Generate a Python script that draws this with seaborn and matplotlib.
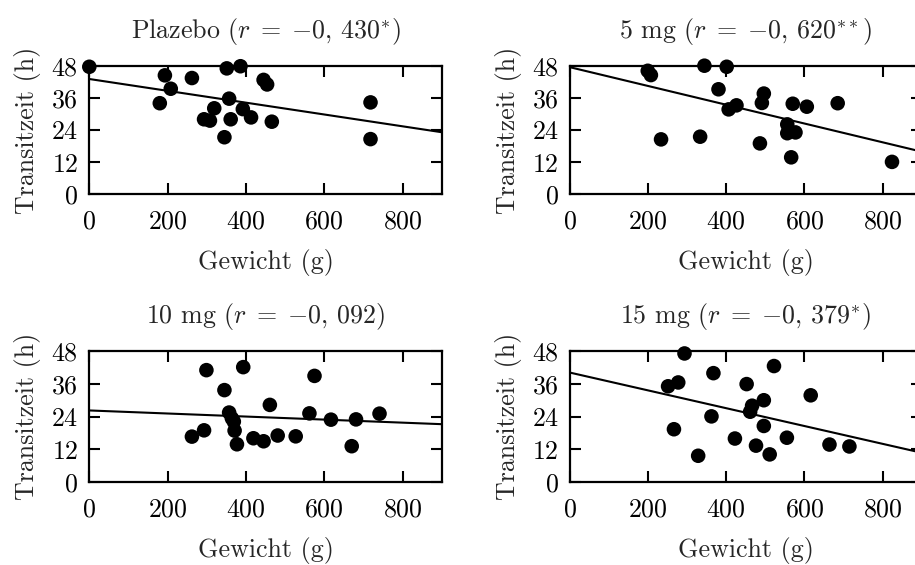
import matplotlib
matplotlib.use("Agg")
import numpy as np
import pandas as pd
import seaborn as sns
import matplotlib.pyplot as plt

# Körpergewicht (g) und Transitzeit (h) je Behandlungsgruppe
plazebo_gewicht = [0, 180, 193, 208, 262, 293, 308, 319, 345, 351, 357, 361, 386, 392, 413, 445, 454, 466, 718, 718]
plazebo_zeit = [47.6, 34.0, 44.4, 39.4, 43.4, 28.0, 27.5, 32.1, 21.3, 47.0, 35.7, 28.0, 47.8, 31.8, 28.7, 42.7, 41.0, 27.1, 34.3, 20.6]

mg5_gewicht = [199, 207, 233, 333, 344, 380, 401, 406, 426, 486, 491, 496, 556, 556, 577, 566, 570, 606, 685, 824]
mg5_zeit = [46.1, 44.5, 20.5, 21.5, 48.0, 39.2, 47.6, 31.7, 33.2, 19.0, 34.1, 37.6, 26.1, 22.8, 23.1, 13.8, 33.8, 32.7, 34.0, 12.1]

mg10_gewicht = [262, 293, 299, 345, 357, 364, 369, 371, 377, 393, 419, 445, 461, 481, 527, 562, 575, 617, 670, 681, 741]
mg10_zeit = [16.7, 19.0, 41.0, 33.7, 25.5, 23.4, 22.2, 18.9, 13.9, 42.1, 16.1, 15.0, 28.3, 17.1, 16.8, 25.2, 38.9, 22.9, 13.2, 23.0, 25.1]

mg15_gewicht = [251, 266, 277, 293, 328, 362, 367, 422, 452, 461, 466, 476, 496, 496, 511, 522, 555, 616, 664, 715]
mg15_zeit = [35.1, 19.4, 36.5, 47.1, 9.7, 24.1, 39.9, 16.0, 35.9, 25.8, 28.0, 13.4, 30.0, 20.6, 10.2, 42.5, 16.3, 31.8, 13.8, 13.1]

titel = [
    r"Plazebo ($r\;=\;{-}0,\,430^{*}$)",
    r"5 mg ($r\;=\;{-}0,\,620^{**}$)",
    r"10 mg ($r\;=\;{-}0,\,092$)",
    r"15 mg ($r\;=\;{-}0,\,379^{*}$)",
]
x_ticks = [0, 200, 400, 600, 800]
y_ticks = [0, 12, 24, 36, 48]

gruppen = [
    (plazebo_gewicht, plazebo_zeit),
    (mg5_gewicht, mg5_zeit),
    (mg10_gewicht, mg10_zeit),
    (mg15_gewicht, mg15_zeit),
]

sns.set_theme(style="ticks")
plt.rcParams["font.family"] = ["cmr10"]
plt.rcParams["mathtext.fontset"] = "cm"
plt.rcParams["axes.unicode_minus"] = False
plt.rcParams["axes.formatter.use_mathtext"] = True

W, H = 915, 565
fig = plt.figure(figsize=(W / 100, H / 100), dpi=100)

# Achsenpositionen in Pixeln: links, oben, Breite, Höhe
boxen = [
    (89.3, 65.7, 352.5, 128.6),
    (570.0, 65.7, 351.7, 128.6),
    (89.3, 351.0, 352.5, 131.3),
    (570.0, 351.0, 351.7, 131.3),
]

FS = 18.7

for (gx, gy), t, (l, o, b, h) in zip(gruppen, titel, boxen):
    ax = fig.add_axes([l / W, 1 - (o + h) / H, b / W, h / H])
    ax.set_xlim(0, 900)
    ax.set_ylim(0, 48)
    df = pd.DataFrame({"Gewicht": gx, "Zeit": gy})
    sns.regplot(
        data=df, x="Gewicht", y="Zeit", ax=ax, ci=None, truncate=False,
        scatter_kws=dict(s=110, color="black", alpha=1, edgecolors="none", clip_on=False, zorder=3),
        line_kws=dict(color="black", lw=1.5),
    )
    ax.set_xlim(0, 900)
    ax.set_ylim(0, 48)
    ax.set_xticks(x_ticks)
    ax.set_yticks(y_ticks)
    for s in ax.spines.values():
        s.set_visible(True)
        s.set_linewidth(1.6)
        s.set_color("black")
    ax.tick_params(direction="in", length=8, width=1.5, top=True, right=True,
                   labelsize=FS, colors="black")
    ax.tick_params(axis="x", pad=11)
    ax.tick_params(axis="y", pad=8)
    ax.set_xlabel("Gewicht (g)", fontsize=FS, labelpad=11)
    ax.set_ylabel("Transitzeit (h)", fontsize=FS, labelpad=7)
    ax.set_title(t, fontsize=FS, pad=20)

fig.savefig("out.png", dpi=100)
